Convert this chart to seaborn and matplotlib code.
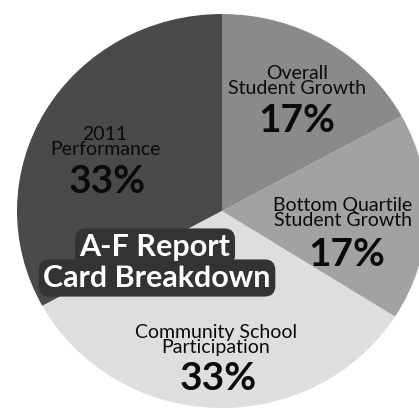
import matplotlib
matplotlib.use("Agg")
import matplotlib.pyplot as plt
import seaborn as sns

# slices, counter-clockwise from 12 o'clock
labels = ["2011\nPerformance", "Community School\nParticipation",
          "Bottom Quartile\nStudent Growth", "Overall\nStudent Growth"]
shares = [33, 33, 17, 17]
pct_text = ["33%", "33%", "17%", "17%"]
colors = ["#4a4a4a", "#dedede", "#a2a2a2", "#8a8a8a"]
title_lines = ["A-F Report", "Card Breakdown"]

sns.set_theme(style="white")
plt.rcParams['font.family'] = ['Lato', 'DejaVu Sans']

fig = plt.figure(figsize=(4.19, 4.15), dpi=100)
ax = fig.add_axes([0, 0, 1, 1])
ax.pie(shares, colors=colors, startangle=90, counterclock=True,
       wedgeprops=dict(linewidth=0))
ax.set_aspect('auto')
ax.set_xlim(-222 / 205, (419 - 222) / 205)
ax.set_ylim(-(415 - 211) / 197, 211 / 197)
ax.axis('off')

# label anchor points in pixels (x, y from top) for name and percentage
name_pos = [(105, 142), (216, 340), (343, 213), (297, 81)]
pct_pos = [(107, 181), (218, 378), (347, 254), (297, 121)]

for lab, pct, (nx, ny), (qx, qy) in zip(labels, pct_text, name_pos, pct_pos):
    ax.text(nx / 419, 1 - ny / 415, lab, transform=ax.transAxes, ha='center',
            va='center', fontsize=14, color='#0a0a0a', linespacing=0.8)
    ax.text(qx / 419, 1 - qy / 415, pct, transform=ax.transAxes, ha='center',
            va='center', fontsize=28, fontweight='bold', color='#0a0a0a')

box = dict(boxstyle="round,pad=0.15,rounding_size=0.35", fc="#333333", ec="none")
ax.text(157 / 419, 1 - 278 / 415, title_lines[1], transform=ax.transAxes,
        ha='center', va='center', fontsize=22, fontweight='bold',
        color='white', bbox=box, zorder=5)
ax.text(155 / 419, 1 - 247 / 415, title_lines[0], transform=ax.transAxes,
        ha='center', va='center', fontsize=22, fontweight='bold',
        color='white', bbox=box, zorder=6)

fig.savefig("out.png", dpi=100, facecolor="white")
